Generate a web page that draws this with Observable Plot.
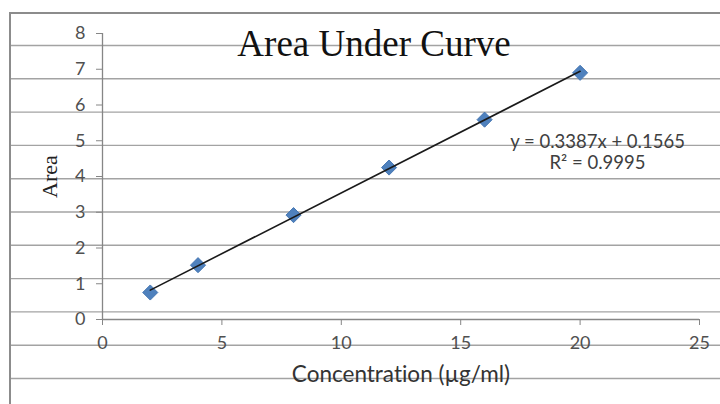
<!DOCTYPE html>
<html><head><meta charset="utf-8">
<script src="https://cdn.jsdelivr.net/npm/d3@7"></script>
<script src="https://cdn.jsdelivr.net/npm/@observablehq/plot@0.6"></script>
<style>
body{margin:0;background:#fff;}
#wrap{position:relative;width:720px;height:404px;overflow:hidden;background:#fff;}
#bg,#chart{position:absolute;left:0;top:0;}
#chart svg{background:transparent;}
#chart text{font-variant-ligatures:none;font-feature-settings:"liga" 0;}
</style></head><body>
<div id="wrap"><svg id="bg" width="720" height="404"></svg><div id="chart"></div></div>
<script>
const concentration = [2, 4, 8, 12, 16, 20];
const area = [0.755, 1.52, 2.92, 4.25, 5.59, 6.90];
const xTicks = [0, 5, 10, 15, 20, 25];
const yTicks = [0, 1, 2, 3, 4, 5, 6, 7, 8];
const equationLines = ["y = 0.3387x + 0.1565", "R² = 0.9995"];
const chartTitle = "Area Under Curve";
const xLabel = "Concentration (µg/ml)";
const yLabel = "Area";

const data = concentration.map((c, i) => ({c, a: area[i]}));

// ruled paper background behind the chart
const bg = d3.select("#bg");
for (let y = 45.5; y < 404; y += 33.3) {
  bg.append("line").attr("x1", 10).attr("x2", 720).attr("y1", y).attr("y2", y)
    .attr("stroke", "#a3a3a3").attr("stroke-width", 1.4);
}
bg.append("line").attr("x1", 10).attr("x2", 720).attr("y1", 13).attr("y2", 13)
  .attr("stroke", "#8c8c8c").attr("stroke-width", 2);
bg.append("line").attr("x1", 10).attr("x2", 10).attr("y1", 12).attr("y2", 404)
  .attr("stroke", "#8c8c8c").attr("stroke-width", 2);

const axisColor = "#868686";
const serif = "'Liberation Serif', 'Times New Roman', serif";
const chart = Plot.plot({
  width: 720,
  height: 404,
  marginLeft: 102,
  marginRight: 21,
  marginTop: 33,
  marginBottom: 85,
  style: {fontFamily: "Lato, 'Open Sans', sans-serif", fontSize: "18px", background: "transparent"},
  x: {domain: [0, 25]},
  y: {domain: [0, 8]},
  marks: [
    Plot.ruleX([0], {stroke: axisColor, strokeWidth: 1.3}),
    Plot.ruleY([0], {stroke: axisColor, strokeWidth: 1.3}),
    Plot.axisX({ticks: xTicks, tickSize: 6, tickPadding: 11, stroke: axisColor, fill: "#505050", fontSize: 18, label: null}),
    Plot.axisY({ticks: yTicks, tickSize: 6, tickPadding: 11, stroke: axisColor, fill: "#505050", fontSize: 18, label: null}),
    Plot.dot(data, {x: "c", y: "a", symbol: "diamond2", r: 6.8, fill: "#4f81bd", stroke: "#4677b3", strokeWidth: 1}),
    Plot.linearRegressionY(data, {x: "c", y: "a", ci: 0, stroke: "#1a1a1a", strokeWidth: 1.6}),
    Plot.text([chartTitle], {frameAnchor: "top", dx: -27, dy: 11, lineAnchor: "middle", fontFamily: serif, fontSize: 37, fill: "#111"}),
    Plot.text([equationLines.join("\n")], {frameAnchor: "top", dx: 196.5, dy: 118.5, lineAnchor: "middle", lineHeight: 1.15, fontSize: 18.5, fill: "#404040"}),
    Plot.text([xLabel], {frameAnchor: "bottom", dy: 55, lineAnchor: "middle", fontSize: 22.5, fill: "#333"}),
    Plot.text([yLabel], {frameAnchor: "left", dx: -53, rotate: -90, textAnchor: "middle", lineAnchor: "middle", fontFamily: serif, fontSize: 22, fill: "#222"})
  ]
});
document.getElementById("chart").appendChild(chart);
</script>
</body></html>
